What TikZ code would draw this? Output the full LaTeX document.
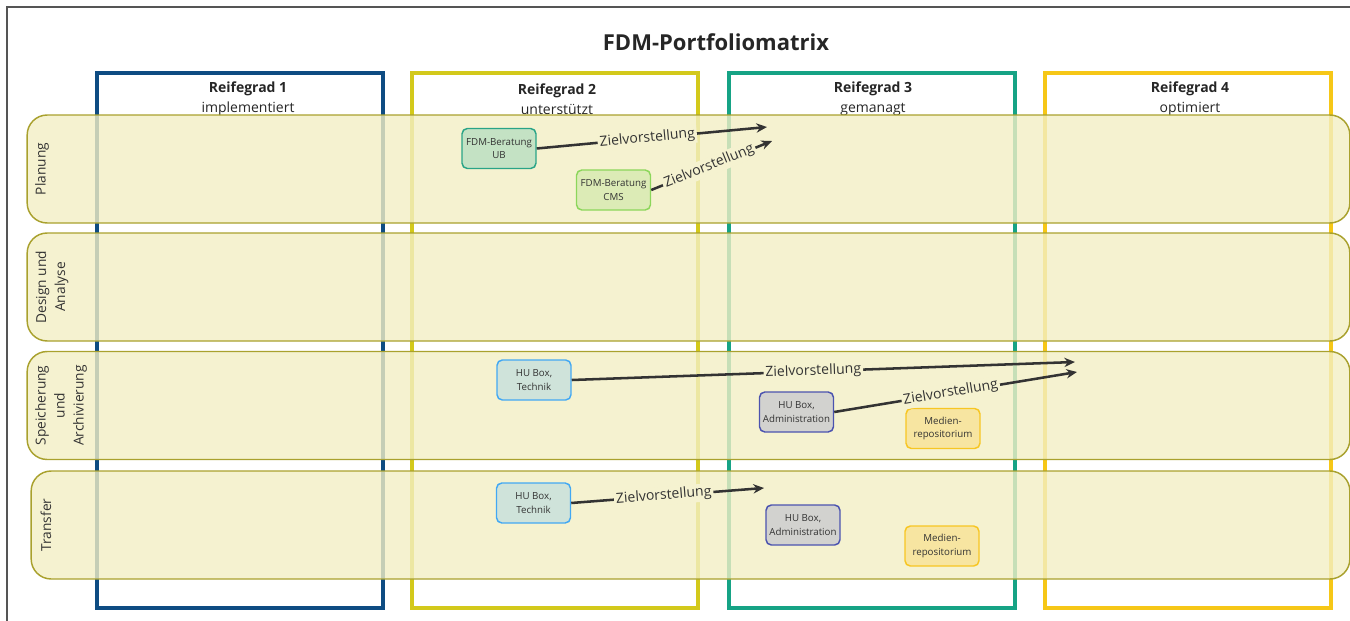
\documentclass[tikz,border=0pt]{standalone}
\usepackage{fontspec}
\setmainfont{Open Sans}
\usetikzlibrary{arrows.meta,positioning}

\definecolor{framegray}{HTML}{555555}
\definecolor{grad1}{HTML}{0E4C82}
\definecolor{grad2}{HTML}{D3C91B}
\definecolor{grad3}{HTML}{16A385}
\definecolor{grad4}{HTML}{F6C717}
\definecolor{rowline}{HTML}{A9A12E}
\definecolor{rowfill}{RGB}{243,239,196}
\definecolor{rowbg}{HTML}{F5F2D0}
\definecolor{ink}{HTML}{333333}
\definecolor{ubfill}{HTML}{C4E2C4}
\definecolor{ubline}{HTML}{2AA487}
\definecolor{cmsfill}{HTML}{DCEBB6}
\definecolor{cmsline}{HTML}{8CD65B}
\definecolor{techfill}{HTML}{CFE3DA}
\definecolor{techline}{HTML}{42A8F3}
\definecolor{adminfill}{HTML}{D2D2CF}
\definecolor{adminline}{HTML}{4B53AF}
\definecolor{medfill}{HTML}{F7E5A1}
\definecolor{medline}{HTML}{F7C623}

\begin{document}
\begin{tikzpicture}[x=0.75pt,y=-0.75pt]
\tikzset{
  column/.style={draw=#1, line width=2.3pt, minimum width=214.5pt, minimum height=401.25pt, inner sep=0pt},
  head/.style={align=center, text=black!85, font=\fontsize{10.5}{15}\selectfont},
  lane/.style={draw=rowline, line width=1.1pt, fill=rowfill, fill opacity=0.8, rounded corners=15pt,
    minimum height=81pt, inner sep=0pt},
  lanelabel/.style={rotate=90, align=center, text=ink, font=\fontsize{10.3}{14.25}\selectfont},
  tool/.style={draw=#1line, fill=#1fill, line width=1.1pt, rounded corners=4pt, align=center,
    text=ink, font=\fontsize{7.3}{10}\selectfont, minimum width=55.5pt, minimum height=30pt, inner sep=1pt},
  goal/.style={draw=ink, line width=1.9pt, -{Stealth[length=8pt,width=7pt]}},
  ziel/.style={pos=0.48, sloped, fill=rowbg, inner sep=1.5pt, text=ink, font=\fontsize{10.5}{12}\selectfont}
}
\useasboundingbox (0,0) rectangle (1350,621);
\draw[framegray, line width=1.1pt] (7,621) -- (7,7) -- (1350,7);

\node[font=\fontsize{16.5}{19}\bfseries\selectfont, text=black!85] (title) at (716,42) {FDM-Portfoliomatrix};

% Reifegrade
\node[column=grad1] (col1) at (240,340.5) {};
\node[column=grad2] (col2) at (555,340.5) {};
\node[column=grad3] (col3) at (872,340.5) {};
\node[column=grad4] (col4) at (1188,340.5) {};

\node[head] (head1) at (248,99) {\textbf{Reifegrad 1}\\implementiert};
\node[head] (head2) at (557,99) {\textbf{Reifegrad 2}\\unterstützt};
\node[head] (head3) at (873,99) {\textbf{Reifegrad 3}\\gemanagt};
\node[head] (head4) at (1190,99) {\textbf{Reifegrad 4}\\optimiert};

% Phasen
\node[lane, minimum width=992pt] (plan) at (688.5,169) {};
\node[lane, minimum width=992pt] (design) at (688.5,287) {};
\node[lane, minimum width=992pt] (store) at (688.5,405.5) {};
\node[lane, minimum width=989pt] (transfer) at (690.5,525) {};

\node[lanelabel] (planlabel) at (42,169) {Planung};
\node[lanelabel] (designlabel) at (52,287) {Design und\\Analyse};
\node[lanelabel] (storelabel) at (61,405.5) {Speicherung\\und\\Archivierung};
\node[lanelabel] (transferlabel) at (46,525) {Transfer};

% Dienste
\node[tool=ub] (ub) at (499,148.5) {FDM-Beratung\\UB};
\node[tool=cms] (cms) at (613.5,190) {FDM-Beratung\\CMS};
\node[tool=tech] (tech) at (534,380) {HU Box,\\Technik};
\node[tool=admin] (admin) at (796.5,412) {HU Box,\\Administration};
\node[tool=med] (med) at (943,428.5) {Medien-\\repositorium};
\node[tool=tech] (techb) at (533.5,503) {HU Box,\\Technik};
\node[tool=admin] (adminb) at (803,525) {HU Box,\\Administration};
\node[tool=med] (medb) at (942,546) {Medien-\\repositorium};

\coordinate (ubgoal) at (767,127);
\coordinate (cmsgoal) at (772,141);
\coordinate (techgoal) at (1075,362);
\coordinate (admingoal) at (1077,372);
\coordinate (techbgoal) at (764,488);

\draw[goal] (ub.east) -- node[ziel] {Zielvorstellung} (ubgoal);
\draw[goal] (cms.east) -- node[ziel] {Zielvorstellung} (cmsgoal);
\draw[goal] (tech.east) -- node[ziel] {Zielvorstellung} (techgoal);
\draw[goal] (admin.east) -- node[ziel] {Zielvorstellung} (admingoal);
\draw[goal] (techb.east) -- node[ziel] {Zielvorstellung} (techbgoal);
\end{tikzpicture}
\end{document}
